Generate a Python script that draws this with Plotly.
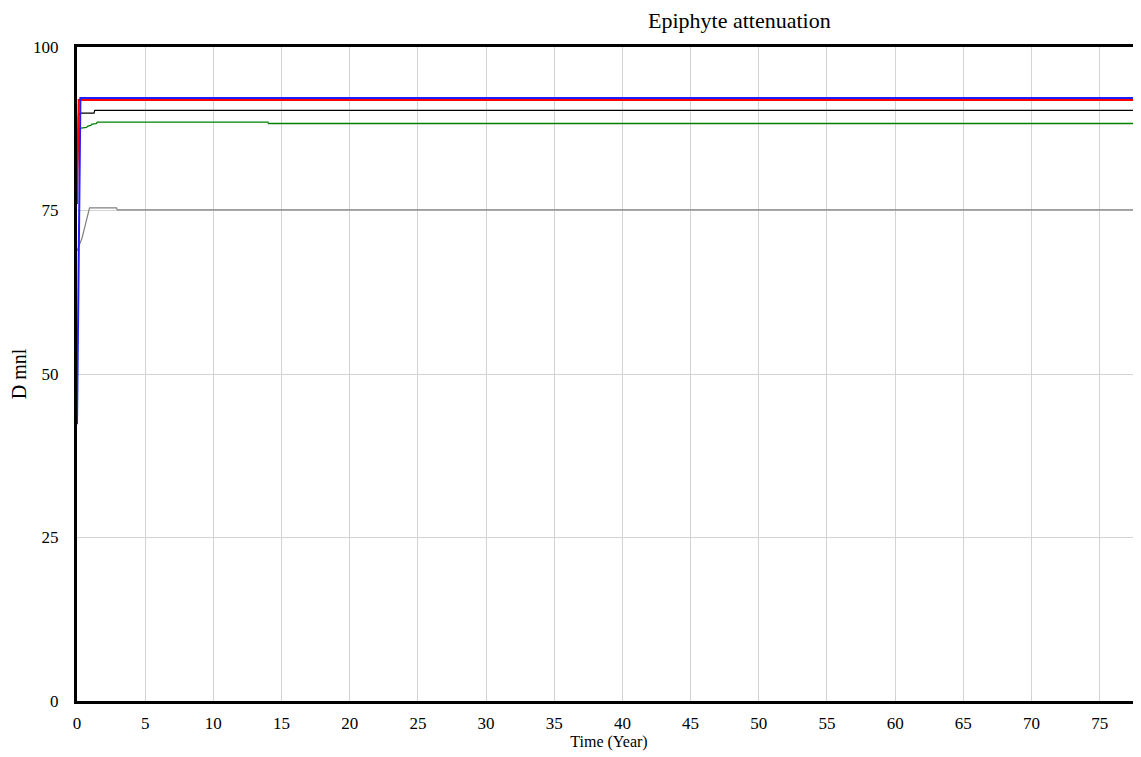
import plotly.graph_objects as go

# Data
t_blue = [0, 0.25, 78]
v_blue = [42.3, 92.2, 92.2]

t_red = [0, 0.125, 78]
v_red = [76.0, 91.9, 91.9]

t_black = [0, 0.1, 0.25, 1.25, 1.3, 78]
v_black = [78.0, 89.5, 89.9, 89.9, 90.3, 90.3]

t_green = [0, 0.1, 0.3, 0.7, 0.8, 1.0, 1.1, 1.4, 1.5, 14.0, 14.05, 78]
v_green = [80.0, 87.2, 87.6, 87.7, 87.9, 88.0, 88.2, 88.3, 88.5, 88.5, 88.3, 88.3]

t_grey = [0, 0.37, 0.92, 2.9, 2.95, 78]
v_grey = [68.8, 70.8, 75.4, 75.4, 75.1, 75.1]

x_ticks = list(range(0, 80, 5))
y_ticks = [0, 25, 50, 75, 100]

FONT = "Liberation Serif"

fig = go.Figure()
fig.add_trace(go.Scatter(x=t_grey, y=v_grey, mode="lines", line=dict(color="#808080", width=1.2)))
fig.add_trace(go.Scatter(x=t_green, y=v_green, mode="lines", line=dict(color="#008000", width=1.3)))
fig.add_trace(go.Scatter(x=t_black, y=v_black, mode="lines", line=dict(color="#000000", width=1.2)))
fig.add_trace(go.Scatter(x=t_red, y=v_red, mode="lines", line=dict(color="#ff0000", width=2)))
fig.add_trace(go.Scatter(x=t_blue, y=v_blue, mode="lines", line=dict(color="#2020ff", width=2)))

fig.update_layout(
    width=1133, height=749,
    margin=dict(l=69, r=0, t=39, b=56),
    paper_bgcolor="white", plot_bgcolor="white",
    showlegend=False,
    font=dict(family=FONT, color="black", size=17),
    annotations=[
        dict(text="Epiphyte attenuation", x=0.623, y=1.0, xref="paper", yref="paper",
             xanchor="center", yanchor="bottom", yshift=12, showarrow=False,
             font=dict(family=FONT, size=22, color="black")),
    ],
)
fig.update_xaxes(
    range=[0, 78.03], tickvals=x_ticks, showgrid=True, gridcolor="#d3d3d3", gridwidth=1,
    showline=True, linecolor="black", linewidth=3, mirror=True, zeroline=False,
    ticks="", tickfont=dict(family=FONT, size=17), ticklabelstandoff=5,
    title=dict(text="Time (Year)", font=dict(family=FONT, size=16), standoff=2),
)
fig.update_yaxes(
    range=[0, 100], tickvals=y_ticks, showgrid=True, gridcolor="#d3d3d3", gridwidth=1,
    showline=True, linecolor="black", linewidth=3, mirror=False, zeroline=False,
    ticks="", tickfont=dict(family=FONT, size=17), ticklabelstandoff=12,
    title=dict(text="D mnl", font=dict(family=FONT, size=20), standoff=8),
)

fig.write_html("out.html")
